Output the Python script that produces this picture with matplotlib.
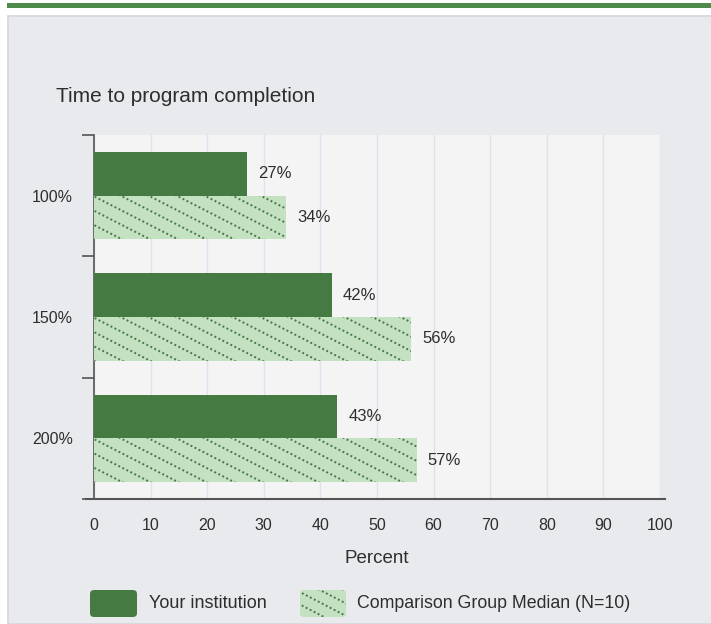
import numpy as np
import matplotlib
matplotlib.use("Agg")
import matplotlib.pyplot as plt
from matplotlib.patches import Rectangle, FancyBboxPatch
from matplotlib.lines import Line2D
from matplotlib.transforms import IdentityTransform

plt.rcParams['font.family'] = ['Liberation Sans', 'DejaVu Sans']

# data
categories = ["100%", "150%", "200%"]
your_institution = [27, 42, 43]
comparison_median = [34, 56, 57]
series_names = ["Your institution", "Comparison Group Median (N=10)"]
x_ticks = list(range(0, 101, 10))

dark_green = "#467a43"
light_green = "#c4e2c2"
text_color = "#2e2e2e"


def dotted_stripes(fig, patch, spacing=28, slope=0.5):
    """Draw dotted diagonal stripes (down-right) clipped to a patch, in pixel space."""
    bb = patch.get_window_extent()
    x0, y0, x1, y1 = bb.x0, bb.y0, bb.x1, bb.y1
    h = y1 - y0
    start = x0 - h / slope - spacing
    for c in np.arange(start, x1 + spacing, spacing):
        ln = Line2D([c, c + h / slope + 2], [y1 + 1, y0 - 1], transform=IdentityTransform(),
                    color=dark_green, lw=1.4, linestyle=(0, (1, 1.3)))
        ln.set_clip_path(patch)
        fig.add_artist(ln)


fig = plt.figure(figsize=(7.11, 6.24), dpi=100, facecolor="white")
W, H = 711, 624

# panel background and top green rule
fig.add_artist(Rectangle((8 / W, 0), 1, (H - 16) / H, transform=fig.transFigure,
                         facecolor="#e8eaed", edgecolor="#d4d6d9", lw=1.2, zorder=0))
fig.add_artist(Rectangle((7 / W, (H - 8) / H), 1, 5 / H, transform=fig.transFigure,
                         facecolor="#4e8a4a", edgecolor="none", zorder=0))

ax = fig.add_axes([94 / W, 1 - 499 / H, 566 / W, 364 / H])
ax.set_facecolor("#f4f4f4")

y = np.arange(len(categories))
bh = 0.36
bars1 = ax.barh(y - bh / 2, your_institution, height=bh, color=dark_green, zorder=3)
bars2 = ax.barh(y + bh / 2, comparison_median, height=bh, color=light_green, zorder=3)

ax.set_xlim(0, 100)
ax.set_ylim(len(categories) - 0.5, -0.5)
ax.set_xticks(x_ticks)
ax.set_xticklabels([str(t) for t in x_ticks], fontsize=11.5, color=text_color)
ax.tick_params(axis='x', length=0, pad=14)
ax.set_yticks(y)
ax.set_yticklabels(categories, fontsize=11.5, color=text_color)
ax.tick_params(axis='y', length=0, pad=15)
ax.set_yticks(np.arange(-0.5, len(categories), 1.0), minor=True)
ax.tick_params(axis='y', which='minor', length=9, width=1.2, color="#555555")
ax.grid(axis='x', color="#dde3ee", lw=1, zorder=0)
for s in ['top', 'right']:
    ax.spines[s].set_visible(False)
ax.spines['left'].set_color("#555555")
ax.spines['left'].set_linewidth(1.2)
ax.spines['bottom'].set_visible(False)
# x axis baseline extends past the plot area
ax.plot([-1.4, 100.9], [len(categories) - 0.5] * 2, color="#555555", lw=1.5,
        clip_on=False, zorder=4)

ax.set_xlabel("Percent", fontsize=13.5, color=text_color, labelpad=12)

for b, v in zip(bars1, your_institution):
    ax.annotate(f"{v}%", (b.get_width(), b.get_y() + b.get_height() / 2),
                xytext=(8, 0), textcoords="offset points", va="center",
                fontsize=12, color=text_color)
for b, v in zip(bars2, comparison_median):
    ax.annotate(f"{v}%", (b.get_width(), b.get_y() + b.get_height() / 2),
                xytext=(8, 0), textcoords="offset points", va="center",
                fontsize=12, color=text_color)
    dotted_stripes(fig, b)

fig.text(56 / W, 1 - 97 / H, "Time to program completion", fontsize=15,
         color=text_color, va="center", ha="left")

# legend drawn manually to match the rounded swatches
leg_y = 1 - 617 / H
sw_h = 27 / H
box1 = FancyBboxPatch((90 / W, leg_y), 47 / W, sw_h, boxstyle="round,pad=0,rounding_size=0.006",
                      transform=fig.transFigure, facecolor=dark_green, edgecolor="none")
fig.add_artist(box1)
fig.text(149 / W, leg_y + sw_h / 2, series_names[0], fontsize=13, color=text_color, va="center")
box2 = FancyBboxPatch((300 / W, leg_y), 46 / W, sw_h, boxstyle="round,pad=0,rounding_size=0.006",
                      transform=fig.transFigure, facecolor=light_green, edgecolor="none")
fig.add_artist(box2)
dotted_stripes(fig, box2, spacing=24)
fig.text(357 / W, leg_y + sw_h / 2, series_names[1], fontsize=12.8, color=text_color, va="center")

fig.savefig("out.png", dpi=100, facecolor=fig.get_facecolor())
